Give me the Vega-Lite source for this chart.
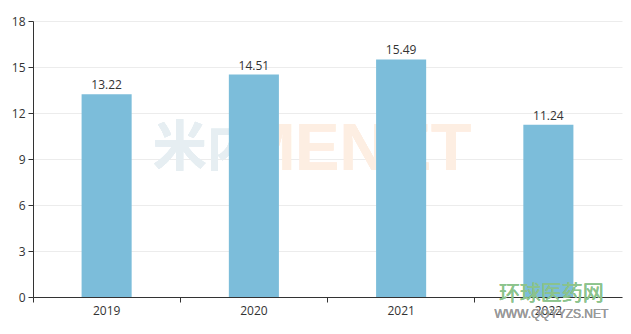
{
  "$schema": "https://vega.github.io/schema/vega-lite/v6.json",
  "width": 589,
  "height": 276,
  "autosize": {"type": "none"},
  "padding": {"left": 33, "top": 21, "right": 9, "bottom": 37},
  "background": "white",
  "config": {"view": {"stroke": null}, "font": "Open Sans"},
  "data": {"values": [
    {"year": "2019", "value": 13.22},
    {"year": "2020", "value": 14.51},
    {"year": "2021", "value": 15.49},
    {"year": "2022", "value": 11.24}
  ]},
  "encoding": {
    "x": {"field": "year", "type": "nominal", "sort": null,
      "scale": {"paddingInner": 0, "paddingOuter": 0},
      "axis": {"title": null, "labelAngle": 0, "domainColor": "#333", "tickColor": "#333", "tickSize": 5, "bandPosition": 0, "labelColor": "#333", "labelFontSize": 12, "labelPadding": 3, "grid": false}},
    "y": {"field": "value", "type": "quantitative",
      "scale": {"domain": [0, 18], "nice": false},
      "axis": {"title": null, "values": [0, 3, 6, 9, 12, 15, 18], "domainColor": "#333", "tickColor": "#333", "tickSize": 5, "labelColor": "#333", "labelFontSize": 12, "labelPadding": 3, "gridColor": "#ececec"}}
  },
  "layer": [
    {"mark": {"type": "text", "text": "米内", "fontSize": 54, "fontWeight": "bold", "color": "#e6eef2", "dx": 100, "font": "Noto Sans CJK SC"},
      "encoding": {"x": {"datum": "2019"}, "y": {"datum": 9.6}, "text": {}}},
    {"mark": {"type": "text", "text": "MENET", "fontSize": 66, "fontWeight": "bold", "color": "#fdeee2", "dx": 102, "font": "Liberation Sans"},
      "encoding": {"x": {"datum": "2020"}, "y": {"datum": 9.6}, "text": {}}},
    {"mark": {"type": "bar", "color": "#7cbdda", "width": {"band": 0.34}}, "encoding": {}},
    {"mark": {"type": "text", "dy": -9, "fontSize": 12, "color": "#333"},
      "encoding": {"text": {"field": "value", "type": "quantitative", "format": ".2f"}}},
    {"mark": {"type": "text", "text": "环球医药网", "fontSize": 21, "color": "#8cc48c", "opacity": 0.85, "dx": 3, "font": "Noto Sans CJK SC"},
      "encoding": {"x": {"datum": "2022"}, "y": {"datum": 0.2}, "text": {}}},
    {"mark": {"type": "text", "text": "WWW.QQYYZS.NET", "fontSize": 12, "color": "#9a9a9a", "opacity": 0.85, "dx": 3, "dy": 20, "font": "Liberation Sans"},
      "encoding": {"x": {"datum": "2022"}, "y": {"datum": 0.2}, "text": {}}}
  ]
}
